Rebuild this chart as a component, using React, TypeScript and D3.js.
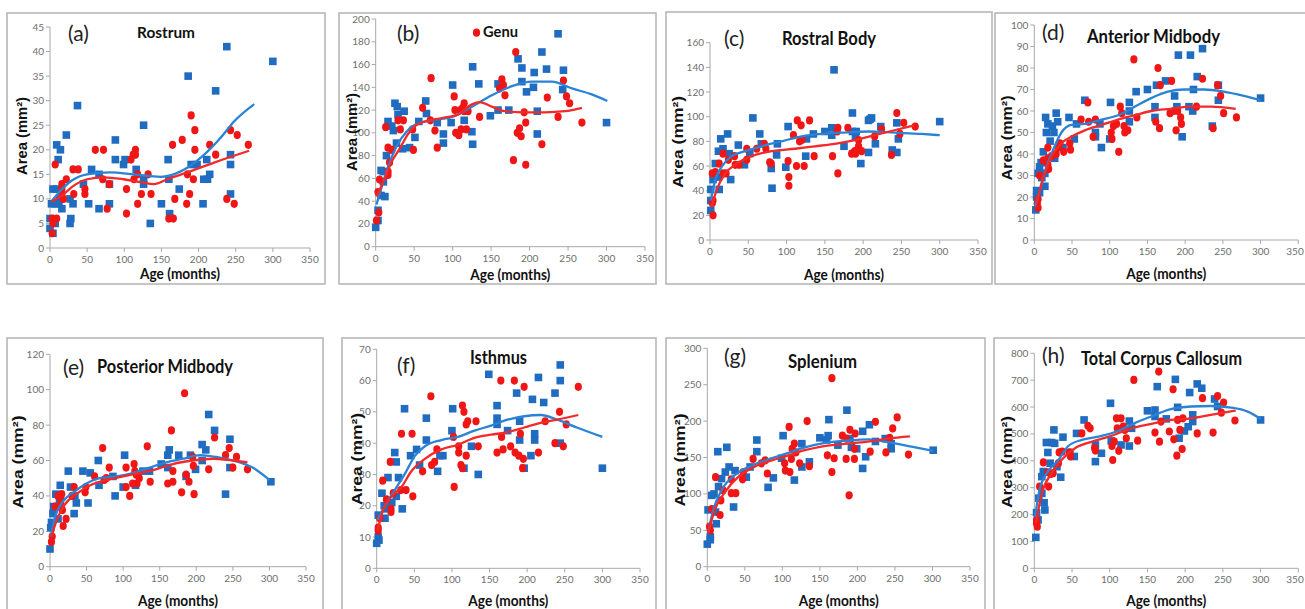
import React from "react";
import * as d3 from "d3";

type Pt = [number, number];

// shared tick labels
const ageTicks = [0, 50, 100, 150, 200, 250, 300, 350];
const panelTags = ["(a)", "(b)", "(c)", "(d)", "(e)", "(f)", "(g)", "(h)"];
const panelTitles = ["Rostrum", "Genu", "Rostral Body", "Anterior Midbody", "Posterior Midbody", "Isthmus", "Splenium", "Total Corpus Callosum"];
const yMaxes = [45, 200, 160, 100, 120, 70, 300, 800];
const ySteps = [5, 20, 20, 10, 20, 10, 50, 100];

// (a) Rostrum
const rostrumBlue: Pt[] = [[300,38],[238,41],[186,35],[223,32],[37,29],[126,25],[88,22],[22,23],[9,21],[14,20],[11,18],[88,18],[99,17],[101,18],[116,16],[159,18],[56,16],[66,15],[190,17],[198,17],[211,18],[243,19],[243,17],[215,15],[207,14],[212,14],[160,14],[126,14],[126,13],[45,13],[80,13],[174,12],[4,12],[9,12],[27,10],[52,9],[31,9],[66,8],[80,9],[150,9],[206,9],[2,9],[7,9],[13,10],[12,9],[16,8],[0,6],[0,4],[4,3],[7,5],[28,6],[27,5],[135,5],[161,7],[243,11]];
const rostrumRed: Pt[] = [[7,17],[31,16],[38,16],[22,14],[16,13],[16,12],[16,11],[18,10],[32,11],[47,12],[47,11],[61,20],[72,20],[71,14],[80,13],[77,8],[103,12],[103,7],[109,18],[112,19],[115,20],[115,19],[113,14],[118,15],[118,9],[123,11],[132,15],[136,11],[165,21],[168,10],[160,6],[166,6],[178,22],[184,9],[185,15],[188,11],[190,27],[195,24],[195,20],[193,14],[215,21],[223,19],[238,10],[243,24],[248,9],[252,23],[267,21],[3,6],[3,3],[4,5],[9,6]];
const rostrumBlueFit: Pt[] = [[2,9.5],[15,11.8],[30,13.8],[50,15],[81,15.4],[113,15],[149,14.5],[176,15.6],[203,18.4],[230,22.5],[248,25.8],[275,29.3]];
const rostrumRedFit: Pt[] = [[2,9.4],[16,10.7],[32,12.7],[50,14],[72,14.4],[99,14],[122,13.4],[140,13],[158,14],[185,15.4],[221,17.4],[268,19.8]];

// (b) Genu
const genuBlue: Pt[] = [[300,109],[237,187],[216,171],[185,165],[190,157],[190,145],[196,136],[206,153],[205,140],[222,156],[244,155],[243,138],[210,119],[210,99],[126,158],[134,143],[159,143],[159,120],[173,120],[149,115],[125,101],[126,90],[115,111],[100,142],[98,109],[88,99],[88,91],[80,109],[65,128],[66,117],[56,110],[51,96],[44,87],[35,86],[25,126],[28,123],[37,119],[29,116],[27,91],[16,110],[21,106],[23,102],[14,80],[7,67],[10,66],[10,57],[12,44],[7,45],[3,32],[3,23],[0,17]];
const genuRed: Pt[] = [[13,105],[36,111],[29,111],[32,103],[16,87],[21,85],[18,74],[16,66],[16,63],[3,48],[5,59],[4,30],[1,23],[48,103],[49,85],[61,122],[72,148],[71,111],[77,102],[80,87],[102,132],[103,120],[104,100],[108,98],[111,103],[110,120],[113,122],[115,126],[115,119],[118,103],[120,119],[131,188],[135,114],[161,139],[164,147],[166,142],[168,133],[179,76],[182,171],[184,100],[189,97],[187,104],[193,118],[195,109],[195,72],[216,90],[223,131],[237,114],[244,146],[248,132],[252,126],[268,109]];
const genuBlueFit: Pt[] = [[1,37],[8,53],[16,70],[27,88],[40,101],[51,107],[73,111],[99,114],[125,123],[151,133],[177,141],[203,145],[229,145],[255,139],[280,134],[301,128]];
const genuRedFit: Pt[] = [[1,44],[10,57],[21,75],[32,87],[42,99],[51,106],[64,110],[86,113],[107,116],[125,125],[135,127],[151,123],[168,119],[194,118],[220,118],[246,119],[268,122]];

// (c) Rostral Body
const rostralBodyBlue: Pt[] = [[162,138],[186,88],[186,103],[209,98],[211,99],[207,97],[244,95],[244,71],[246,82],[238,73],[300,96],[223,92],[216,78],[207,71],[197,62],[190,84],[191,88],[175,76],[159,91],[159,85],[150,88],[135,86],[126,82],[125,68],[102,92],[99,59],[88,78],[87,69],[81,42],[80,58],[67,78],[65,86],[56,99],[52,70],[45,61],[37,77],[27,49],[23,86],[25,70],[14,82],[17,74],[11,72],[12,41],[11,51],[7,62],[4,49],[1,41],[1,32],[1,24]];
const rostralBodyRed: Pt[] = [[3,54],[7,55],[4,32],[3,30],[4,20],[12,62],[17,70],[17,54],[21,54],[24,65],[32,68],[33,61],[38,61],[48,74],[48,65],[61,74],[71,78],[73,74],[78,63],[80,62],[102,64],[103,51],[103,44],[109,85],[114,97],[119,93],[117,80],[120,81],[113,60],[123,60],[130,97],[136,68],[160,68],[166,88],[167,91],[167,54],[180,91],[185,70],[190,70],[189,72],[194,76],[194,81],[198,72],[215,84],[224,90],[237,69],[244,103],[248,86],[253,95],[268,92]];
const rostralBodyBlueFit: Pt[] = [[1,32],[7,49],[15,59],[28,68],[46,72],[67,76],[93,80],[120,84],[146,86],[172,87],[207,88],[241,87],[276,86],[300,85]];
const rostralBodyRedFit: Pt[] = [[2,27],[9,41],[20,54],[33,61],[54,68],[80,72],[111,74],[137,76],[163,78],[189,81],[215,85],[241,89],[267,93]];

// (d) Anterior Midbody
const antMidBlue: Pt[] = [[300,66],[191,86],[207,86],[223,89],[216,76],[211,70],[244,72],[244,65],[236,53],[205,62],[210,60],[196,48],[189,62],[186,67],[174,74],[162,72],[160,62],[160,57],[150,70],[135,69],[126,64],[126,60],[126,55],[101,64],[100,47],[89,43],[87,54],[81,50],[81,48],[67,65],[56,54],[53,47],[46,57],[29,59],[31,55],[24,53],[26,50],[21,46],[27,38],[38,43],[15,57],[18,54],[16,50],[12,41],[14,31],[14,25],[9,36],[7,34],[5,31],[7,22],[3,23],[3,20],[2,14],[10,29]];
const antMidRed: Pt[] = [[5,19],[4,17],[5,15],[7,30],[12,37],[18,43],[18,38],[18,35],[19,33],[23,39],[29,40],[32,43],[34,45],[39,41],[47,45],[48,42],[62,56],[71,64],[72,55],[78,48],[81,56],[102,50],[103,47],[105,53],[109,54],[112,41],[114,62],[116,59],[119,53],[120,50],[124,51],[132,84],[136,57],[161,55],[164,80],[167,72],[166,52],[180,59],[182,74],[185,60],[188,51],[190,60],[194,57],[195,54],[215,62],[223,75],[237,52],[243,72],[247,67],[251,59],[268,57]];
const antMidBlueFit: Pt[] = [[1,15.5],[7,23],[16,34],[25,42],[36,50],[49,53.5],[67,54],[89,56],[111,58],[133,62],[155,66],[177,69],[199,70],[225,70],[251,69],[278,67],[300,65]];
const antMidRedFit: Pt[] = [[3,17],[12,29],[23,39],[36,45],[49,48],[67,51],[89,53.5],[111,56],[133,58],[155,60],[181,61],[207,62],[234,62],[267,61]];

// (e) Posterior Midbody
const postMidBlue: Pt[] = [[302,48],[217,86],[225,77],[246,72],[208,69],[213,66],[208,60],[240,41],[246,56],[192,63],[199,55],[186,51],[176,63],[163,66],[161,63],[161,56],[152,58],[136,54],[127,54],[117,46],[102,63],[100,45],[89,40],[86,51],[66,60],[67,46],[55,53],[52,36],[45,54],[25,54],[34,40],[36,36],[33,30],[28,45],[14,46],[8,41],[13,38],[14,34],[11,27],[5,34],[4,30],[2,25],[1,22],[0,10]];
const postMidRed: Pt[] = [[184,98],[166,77],[225,73],[245,67],[255,62],[240,63],[195,62],[217,55],[250,56],[270,55],[196,57],[197,41],[190,48],[186,52],[180,42],[168,54],[168,48],[161,47],[133,68],[137,48],[115,58],[116,54],[118,52],[122,50],[119,47],[113,47],[109,40],[104,56],[104,45],[81,56],[72,67],[74,49],[77,50],[61,51],[49,45],[48,42],[33,45],[30,40],[22,27],[18,23],[16,41],[15,38],[15,35],[17,32],[11,40],[7,34],[3,17],[2,14]];
const postMidBlueFit: Pt[] = [[1,17],[7,28],[18,37],[32,42],[50,47],[68,50],[91,51],[114,53],[136,56],[159,59],[182,61],[205,63],[227,62],[250,60],[277,56],[300,49]];
const postMidRedFit: Pt[] = [[2,17],[9,26],[20,35],[36,41],[55,46],[77,49],[100,51],[123,53],[145,55],[168,58],[195,60],[223,61],[250,60],[270,59]];

// (f) Isthmus
const isthmusBlue: Pt[] = [[300,32],[244,65],[244,60],[237,56],[244,40],[215,61],[222,53],[207,54],[210,43],[210,41],[205,36],[186,56],[190,47],[190,41],[196,32],[174,44],[160,52],[160,48],[160,46],[149,62],[135,30],[126,39],[116,32],[101,51],[100,44],[88,36],[81,31],[84,36],[66,41],[66,48],[57,33],[53,38],[45,36],[37,51],[34,19],[26,34],[24,37],[29,29],[26,23],[20,21],[15,29],[13,19],[11,16],[7,24],[10,20],[2,17],[2,10],[3,9],[0,8]];
const isthmusRed: Pt[] = [[268,58],[243,50],[248,39],[252,46],[237,40],[224,47],[215,37],[196,58],[183,60],[165,60],[166,42],[168,38],[160,37],[178,39],[184,37],[189,36],[195,35],[194,32],[191,43],[135,39],[132,47],[121,47],[119,46],[114,52],[116,50],[109,39],[109,37],[112,33],[114,32],[119,36],[102,42],[103,26],[80,38],[77,34],[73,33],[72,55],[61,31],[47,43],[48,23],[39,25],[32,25],[33,43],[22,24],[19,19],[19,18],[18,34],[13,22],[8,28],[4,16],[2,13],[2,12]];
const isthmusBlueFit: Pt[] = [[1,15.5],[11,20],[24,25],[37,30],[51,36],[64,39],[86,41],[108,42],[130,44],[152,45.6],[174,47.5],[196,48.6],[218,49],[240,47.5],[266,45],[300,42]];
const isthmusRedFit: Pt[] = [[1,12],[9,19],[20,23],[33,26],[46,31],[64,35],[86,38],[108,39.5],[130,41.7],[152,42.7],[174,43.5],[196,45],[218,46.5],[240,47.5],[268,49]];

// (g) Splenium
const spleniumBlue: Pt[] = [[301,160],[186,215],[162,202],[216,195],[207,186],[224,172],[207,135],[211,151],[237,176],[245,169],[245,162],[199,162],[190,176],[192,164],[174,167],[159,174],[161,180],[150,177],[136,144],[126,169],[126,137],[116,119],[101,180],[99,149],[88,122],[81,109],[66,174],[66,158],[57,137],[52,123],[37,132],[35,82],[26,164],[29,137],[24,130],[14,158],[19,121],[15,110],[11,75],[12,59],[9,100],[6,98],[1,78],[4,41],[4,37],[0,31]];
const spleniumRed: Pt[] = [[166,259],[133,200],[109,192],[224,199],[253,205],[247,190],[243,177],[238,157],[268,154],[217,158],[196,162],[197,183],[190,188],[180,180],[185,176],[185,148],[196,148],[189,98],[169,149],[160,153],[166,130],[136,138],[123,142],[118,157],[116,169],[113,162],[112,148],[110,130],[103,142],[104,132],[80,128],[77,146],[72,142],[61,148],[48,130],[47,120],[38,101],[32,120],[32,101],[21,105],[18,91],[17,71],[11,123],[6,79],[3,55],[4,50]];
const spleniumBlueFit: Pt[] = [[1,46],[8,78],[19,105],[37,126],[55,137],[77,146],[104,155],[130,164],[157,170],[184,173],[215,175],[241,171],[272,165],[301,159]];
const spleniumRedFit: Pt[] = [[1,46],[10,78],[24,103],[41,123],[64,138],[86,146],[108,153],[130,160],[152,165],[175,168],[197,170],[219,172.6],[241,176],[270,179]];

// (h) Total Corpus Callosum
const totalBlue: Pt[] = [[300,552],[187,703],[216,686],[222,670],[163,676],[101,614],[206,654],[239,630],[243,602],[190,599],[210,571],[210,546],[204,527],[199,511],[192,484],[175,556],[160,589],[150,586],[160,565],[126,548],[129,521],[126,455],[115,459],[102,474],[89,428],[81,397],[81,459],[66,552],[56,502],[53,416],[47,431],[38,488],[35,339],[26,515],[23,468],[27,465],[18,431],[16,468],[21,391],[30,378],[12,360],[10,341],[10,279],[13,244],[14,217],[6,261],[3,207],[5,180],[2,115]];
const totalRed: Pt[] = [[165,732],[132,701],[184,666],[223,633],[243,641],[251,617],[248,579],[266,550],[237,505],[216,502],[190,552],[197,558],[193,515],[179,509],[185,480],[189,419],[196,444],[166,471],[160,505],[168,546],[137,475],[122,484],[120,515],[118,527],[115,558],[109,558],[110,521],[112,437],[104,403],[103,455],[106,471],[80,447],[81,438],[71,530],[74,521],[63,502],[48,416],[47,431],[37,434],[33,431],[32,391],[25,354],[22,351],[19,304],[18,357],[12,394],[7,304],[3,180],[3,167],[4,155]];
const totalBlueFit: Pt[] = [[1,192],[7,292],[18,360],[32,403],[45,455],[63,478],[85,490],[111,511],[133,540],[155,565],[181,592],[208,602],[234,604],[261,598],[283,583],[300,556]];
const totalRedFit: Pt[] = [[2,167],[10,279],[23,354],[36,403],[54,447],[76,471],[102,493],[129,521],[155,537],[181,552],[208,558],[234,571],[267,587]];

const blueSets = [rostrumBlue, genuBlue, rostralBodyBlue, antMidBlue, postMidBlue, isthmusBlue, spleniumBlue, totalBlue];
const redSets = [rostrumRed, genuRed, rostralBodyRed, antMidRed, postMidRed, isthmusRed, spleniumRed, totalRed];
const blueFits = [rostrumBlueFit, genuBlueFit, rostralBodyBlueFit, antMidBlueFit, postMidBlueFit, isthmusBlueFit, spleniumBlueFit, totalBlueFit];
const redFits = [rostrumRedFit, genuRedFit, rostralBodyRedFit, antMidRedFit, postMidRedFit, isthmusRedFit, spleniumRedFit, totalRedFit];

// layout of each panel on the page
const layout = [
  { box: [7, 13, 318, 271], x0: 50, x1: 310, y0: 248, y1: 27, tag: [68, 41], title: [137, 38, 58, 16], ylab: [22, 136, 78], ageY: 279 },
  { box: [339, 13, 317, 271], x0: 375.7, x1: 645, y0: 246.7, y1: 19, tag: [397, 41], title: [483, 37, 35, 16], ylab: [352, 132, 78], ageY: 280 },
  { box: [666, 12, 326, 272], x0: 710, x1: 978, y0: 240, y1: 42.7, tag: [724, 46], title: [782, 45, 94, 19], ylab: [678, 142, 92], ageY: 280 },
  { box: [995, 13, 330, 271], x0: 1034.3, x1: 1298.3, y0: 240, y1: 25, tag: [1042, 40], title: [1087, 43, 133, 19], ylab: [1007, 138, 85], ageY: 279 },
  { box: [7, 338, 316, 290], x0: 50, x1: 306, y0: 566.7, y1: 354.3, tag: [63, 375], title: [97, 373, 136, 18], ylab: [18, 462, 93], ageY: 606 },
  { box: [342, 338, 314, 290], x0: 376.7, x1: 640, y0: 568.3, y1: 349.3, tag: [397, 373], title: [470, 364, 57, 18], ylab: [357, 459, 92], ageY: 606 },
  { box: [666, 338, 319, 290], x0: 707.3, x1: 970, y0: 566.7, y1: 348.3, tag: [724, 364], title: [788, 368, 69, 18], ylab: [680, 460, 93], ageY: 606 },
  { box: [994, 338, 330, 290], x0: 1034.3, x1: 1298.3, y0: 568.3, y1: 353.3, tag: [1042, 363], title: [1081, 365, 161, 18], ylab: [1007, 462, 92], ageY: 606 },
];

const WIDTH = 1305;
const BLUE = "#1f6cc0";
const RED = "#f01616";
const BLUE_LINE = "#2a83d4";
const RED_LINE = "#f22a2a";
const AXIS = "#a8a8a8";
const TICK_TEXT = "#6e6e6e";

function Panel({ i }: { i: number }) {
  const L = layout[i];
  const x = d3.scaleLinear().domain([0, 350]).range([L.x0, L.x1]);
  const y = d3.scaleLinear().domain([0, yMaxes[i]]).range([L.y0, L.y1]);
  const yTicks = d3.range(0, yMaxes[i] + ySteps[i] / 2, ySteps[i]);
  const line = d3.line<Pt>().x(d => x(d[0])).y(d => y(d[1])).curve(d3.curveMonotoneX);
  const [bx, by, bw, bh] = L.box;

  return (
    <g>
      <rect x={bx} y={by} width={bw} height={bh} fill="#fff" stroke="#b3b3b3" strokeWidth={1.5} />
      {/* axes */}
      <line x1={L.x0} x2={L.x0} y1={L.y0} y2={L.y1} stroke={AXIS} />
      <line x1={L.x0} x2={x(350)} y1={L.y0} y2={L.y0} stroke={AXIS} />
      {yTicks.map(t => (
        <g key={"y" + t}>
          <line x1={L.x0 - 4} x2={L.x0} y1={y(t)} y2={y(t)} stroke={AXIS} />
          <text x={L.x0 - 6} y={y(t) + 3.5} textAnchor="end" fontSize={10} fill={TICK_TEXT} fontFamily="Lato, sans-serif">{t}</text>
        </g>
      ))}
      {ageTicks.map(t => {
        // keep the last label inside the page edge
        const tx = Math.min(x(t), WIDTH - 10);
        return (
          <g key={"x" + t}>
            <line x1={x(t)} x2={x(t)} y1={L.y0} y2={L.y0 + 4} stroke={AXIS} />
            <text x={tx} y={L.y0 + 15} textAnchor="middle" fontSize={10} fill={TICK_TEXT} fontFamily="Lato, sans-serif">{t}</text>
          </g>
        );
      })}
      {/* points */}
      {blueSets[i].map((d, k) => (
        <rect key={"b" + k} x={x(d[0]) - 3.8} y={y(d[1]) - 3.8} width={7.6} height={7.6} fill={BLUE} />
      ))}
      {redSets[i].map((d, k) => (
        <ellipse key={"r" + k} cx={x(d[0])} cy={y(d[1])} rx={3.6} ry={4.1} fill={RED} />
      ))}
      {/* trend lines */}
      <path d={line(blueFits[i]) || ""} fill="none" stroke={BLUE_LINE} strokeWidth={2.3} />
      <path d={line(redFits[i]) || ""} fill="none" stroke={RED_LINE} strokeWidth={2.3} />
      {/* labels */}
      <text x={L.tag[0]} y={L.tag[1]} fontSize={21} fontFamily="Lato, sans-serif" fill="#222">{panelTags[i]}</text>
      <text x={L.title[0]} y={L.title[1]} fontSize={L.title[3]} fontWeight="bold" fontFamily="Lato, sans-serif" fill="#111"
        textLength={L.title[2]} lengthAdjust="spacingAndGlyphs">{panelTitles[i]}</text>
      <text transform={`translate(${L.ylab[0]},${L.ylab[1]}) rotate(-90)`} y={5} textAnchor="middle" fontSize={15} fontWeight="bold"
        fontFamily="'Liberation Sans', Arial, sans-serif" fill="#111" textLength={L.ylab[2]} lengthAdjust="spacingAndGlyphs">Area (mm²)</text>
      <text x={(L.x0 + L.x1) / 2} y={L.ageY} textAnchor="middle" fontSize={15} fontWeight="bold" fontFamily="Lato, sans-serif" fill="#111"
        textLength={80} lengthAdjust="spacingAndGlyphs">Age (months)</text>
    </g>
  );
}

export default function App() {
  return (
    <svg width={WIDTH} height={609} style={{ position: "absolute", left: 0, top: 0, background: "#fff" }}>
      {layout.map((_, i) => <Panel key={i} i={i} />)}
    </svg>
  );
}
